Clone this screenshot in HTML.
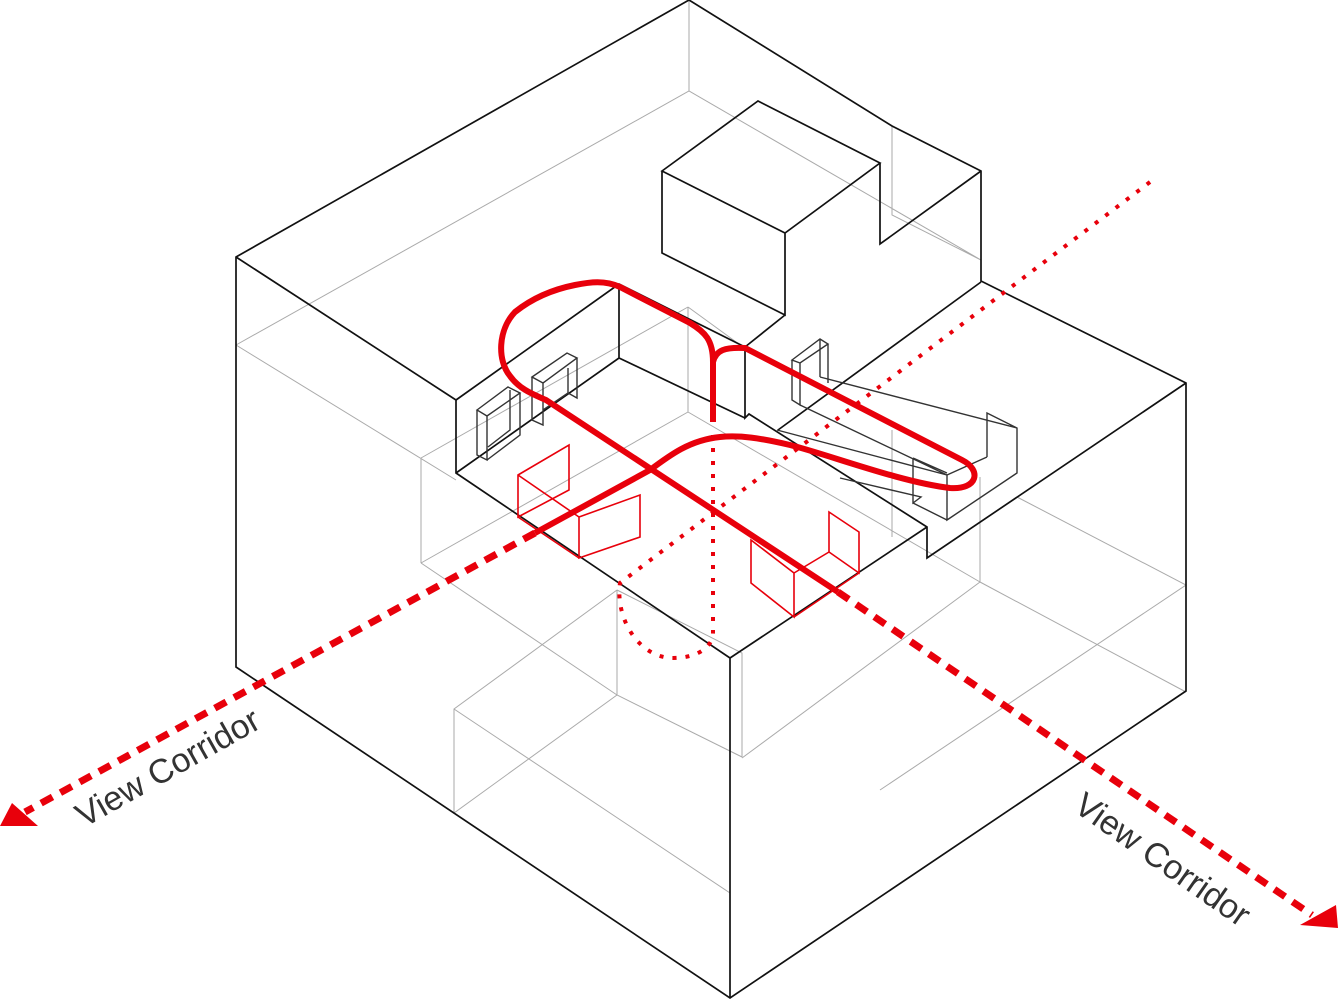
<!DOCTYPE html>
<html><head><meta charset="utf-8"><style>
html,body{margin:0;padding:0;background:#fff;}
svg{display:block;}
</style></head><body>
<svg width="1338" height="1000" viewBox="0 0 1338 1000" xmlns="http://www.w3.org/2000/svg">
<g fill="none" stroke="#aaa" stroke-width="1">
<path d="M689,0 V91 M236,345 L689,91 L981,260 M892,126 V215 L981,260"/>
<path d="M236,345 L456,480 M421,458 V563 M421,458 L688,307 M421,563 L688,412"/>
<path d="M688,307 V412 M688,307 L743,347 M688,412 L980,582"/>
<path d="M421,563 L617,695 L742,757 M617,590 V695 M617,590 L454,709 V813 L617,695 M454,709 L730,893 M617,590 L742,653 V757"/>
<path d="M742,758 L980,582 M980,477 V582 M980,582 L1186,692 M1017,497 L1186,585 L880,790 M892,430 V537"/>
</g>
<g fill="none" stroke="#111" stroke-width="1.7" stroke-linejoin="miter">
<path d="M236,257 L689,0 L892,126 L981,171 L981,281 L1186,383 L1186,691 L730,998 L236,667 Z"/>
<path d="M236,257 L456,400 L456,473 L730,658 L730,998"/>
<path d="M456,400 L619,284 L745,347 L745,418 L749,414 L927,527 L927,558 L1186,383"/>
<path d="M730,658 L927,527 M619,284 V358 M456,473 L619,358 L745,418"/>
<path d="M662,171 L758,101 L880,163 L785,233 Z M662,171 V253 L785,315 V233 M880,163 V244 L981,171 M785,315 L745,347"/>
<path d="M981,282 L778,430"/>
</g>
<g fill="none" stroke="#333" stroke-width="1.4">
<path d="M477,410 L508,387 L520,393 L487,416 Z M477,410 V455 L487,460 V416 M520,393 V435 L487,460 M510,390 V430 L488,447"/>
<path d="M532,377 L567,353 L577,358 L543,383 Z M532,377 V420 L543,425 V383 M577,358 V398 L568,393 V368 M543,410 L568,393"/>
<path d="M792,360 L820,339 L828,344 L800,363 Z M792,360 V400 L800,405 V363 M828,344 V383 M820,339 V377"/>
<path d="M800,405 L947,475 M820,377 L1017,428 M777,430 L947,475 M913,458 L947,473 M913,458 V503 L921,497 L840,478 M913,503 L947,520 M947,475 V520 L1017,473 V428 L987,413 V457 M947,475 L987,457"/>
</g>
<g fill="none" stroke="#e8000b" stroke-width="1.6">
<path d="M518,475 L569,445 V490 L518,517 Z M518,475 L579,517 M518,517 L579,558 M579,517 L640,495 V537 L579,558 Z"/>
<path d="M751,540 L794,573 V617 L751,583 Z M829,512 L859,532 V573 L829,552 Z M794,573 L829,552 M794,617 L859,573"/>
</g>
<g fill="none" stroke="#e8000b" stroke-width="6" stroke-linecap="butt">
<path d="M713,422 V362 C713,340 705,332 690,323 L620,287 C605,280 590,282 575,285 C550,290 530,300 515,312 C498,330 497,360 510,376 C520,390 535,395 546,400 L838,592"/>
<path d="M713,362 C716,350 725,347 745,348 L962,460 C982,470 978,490 950,488 C900,482 830,455 790,445 C760,438 740,435 720,437 C690,440 670,455 650,470 L535,533"/>
</g>
<g fill="none" stroke="#e8000b" stroke-width="4" stroke-dasharray="4 9">
<path d="M1150,182 L620,583 C615,620 640,658 673,658 C700,658 713,645 713,633 M713,435 V633"/>
</g>
<g fill="none" stroke="#e8000b" stroke-width="7" stroke-dasharray="13 9">
<path d="M535,533 L25,812"/>
<path d="M838,592 L1312,915"/>
</g>
<polygon points="0,826 38,826 12,803" fill="#e8000b"/>
<polygon points="1300,925 1338,928 1336,905" fill="#e8000b"/>
<g font-family="'Liberation Sans', sans-serif" font-size="34" fill="#333">
<text transform="translate(84,828) rotate(-29.5)">View Corridor</text>
<text transform="translate(1072,810) rotate(35)">View Corridor</text>
</g>
</svg>
</body></html>
